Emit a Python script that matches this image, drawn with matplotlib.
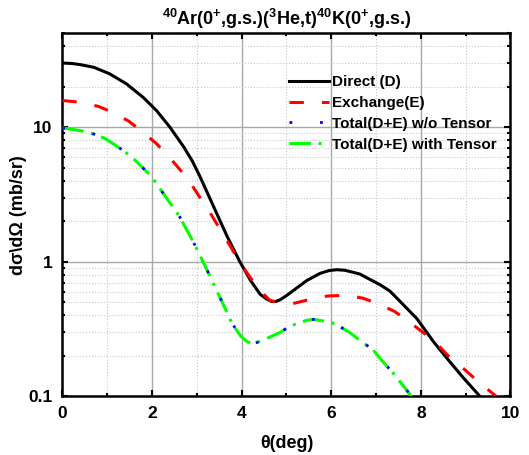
import numpy as np
import matplotlib
matplotlib.use('Agg')
import matplotlib.pyplot as plt
from matplotlib.ticker import FixedLocator, LogLocator, FuncFormatter, NullFormatter

plt.rcParams['font.family'] = ['Liberation Sans', 'DejaVu Sans']
plt.rcParams['font.weight'] = 'bold'
plt.rcParams['mathtext.fontset'] = 'custom'
plt.rcParams['mathtext.default'] = 'bf'
plt.rcParams['mathtext.bf'] = 'Liberation Sans:bold'
plt.rcParams['mathtext.rm'] = 'Liberation Sans:bold'

# values
theta_d = [0, 0.2, 0.4, 0.7, 1.05, 1.43, 1.8, 2.1, 2.4, 2.7, 2.9, 3.07, 3.37, 3.67,
           3.96, 4.11, 4.2, 4.41, 4.55, 4.67, 4.76, 4.85, 5.0, 5.15, 5.45, 5.75,
           5.95, 6.12, 6.3, 6.49, 6.64, 6.86, 7.09, 7.31, 7.53, 7.91, 8.28, 8.65,
           8.95, 9.25, 9.35]
direct = [30, 29.8, 29.2, 27.9, 25.0, 21.0, 16.7, 13.3, 10.0, 7.2, 5.6, 4.3, 2.59,
          1.56, 1.0, 0.82, 0.725, 0.575, 0.53, 0.507, 0.507, 0.52, 0.56, 0.61, 0.724,
          0.82, 0.86, 0.873, 0.865, 0.835, 0.81, 0.74, 0.675, 0.605, 0.51, 0.378,
          0.255, 0.18, 0.137, 0.106, 0.097]

theta_e = [0, 0.35, 0.8, 1.1, 1.48, 1.74, 2.09, 2.33, 2.64, 2.85, 3.1, 3.29, 3.53,
           3.7, 3.95, 4.11, 4.37, 4.63, 4.85, 5.12, 5.44, 5.9, 6.23, 6.45, 6.7, 7.0,
           7.41, 7.67, 8.04, 8.31, 8.61, 8.87, 9.23, 9.47, 9.7]
exchange = [15.8, 15.4, 14.3, 13.0, 11.1, 9.5, 7.6, 6.3, 4.77, 3.89, 2.9, 2.33, 1.72,
            1.39, 1.0, 0.835, 0.63, 0.517, 0.495, 0.487, 0.517, 0.556, 0.562, 0.555,
            0.537, 0.495, 0.428, 0.372, 0.30, 0.255, 0.20, 0.17, 0.133, 0.114, 0.099]

theta_t = [0, 0.43, 0.71, 0.95, 1.32, 1.54, 1.68, 1.95, 2.04, 2.21, 2.4, 2.62, 2.76,
           2.9, 3.08, 3.22, 3.36, 3.52, 3.63, 3.78, 3.98, 4.12, 4.26, 4.56, 4.87,
           5.09, 5.3, 5.45, 5.6, 5.82, 6.02, 6.13, 6.4, 6.71, 6.92, 7.12, 7.38, 7.44,
           7.58, 7.74, 7.8]
total_no_tensor = [9.9, 9.4, 8.88, 8.26, 6.85, 6.03, 5.45, 4.43, 4.07, 3.37, 2.74,
                   2.15, 1.76, 1.45, 1.1, 0.88, 0.70, 0.54, 0.45, 0.35, 0.28, 0.255,
                   0.245, 0.269, 0.30, 0.334, 0.352, 0.367, 0.373, 0.363, 0.351,
                   0.339, 0.30, 0.25, 0.224, 0.186, 0.149, 0.14, 0.123, 0.105, 0.098]
total_tensor = [9.9, 9.4, 8.88, 8.26, 6.85, 6.03, 5.45, 4.43, 4.07, 3.37, 2.74,
                2.15, 1.76, 1.45, 1.1, 0.88, 0.70, 0.54, 0.45, 0.35, 0.28, 0.255,
                0.245, 0.269, 0.30, 0.334, 0.352, 0.367, 0.373, 0.363, 0.351,
                0.339, 0.30, 0.25, 0.224, 0.186, 0.149, 0.14, 0.123, 0.105, 0.098]

fig = plt.figure(figsize=(5.29, 4.55), dpi=100)
ax = fig.add_axes([0.118, 0.129, 0.847, 0.798])

ax.plot(theta_d, direct, color='black', lw=2.2, label='Direct (D)', zorder=3)
ax.plot(theta_e, exchange, color='#ff0000', lw=2.2, dashes=(4.7, 5.9),
        label='Exchange(E)', zorder=3)
ax.plot(theta_t, total_tensor, color='#00ff00', lw=2.2,
        dashes=(7, 2.5, 1, 2.5), label='Total(D+E) with Tensor', zorder=3)
ax.plot(theta_t, total_no_tensor, color='#0000ff', lw=2.0,
        dashes=(1, 10), label='Total(D+E) w/o Tensor', zorder=4)

ax.set_yscale('log')
ax.set_xlim(0, 10)
ax.set_ylim(0.1, 50)

ax.xaxis.set_major_locator(FixedLocator([0, 2, 4, 6, 8, 10]))
ax.xaxis.set_minor_locator(FixedLocator([1, 3, 5, 7, 9]))
ax.yaxis.set_major_locator(FixedLocator([0.1, 1, 10]))
ax.yaxis.set_minor_locator(LogLocator(base=10, subs=np.arange(2, 10)))
ax.yaxis.set_major_formatter(FuncFormatter(lambda v, p: '%g' % v))
ax.yaxis.set_minor_formatter(NullFormatter())

ax.grid(which='major', color='#a8a8a8', lw=1.0, ls='-')
ax.grid(which='minor', color='#c8c8c8', lw=0.8, ls=':')
ax.set_axisbelow(True)

ax.tick_params(which='both', direction='in', top=True, right=True, width=1.5)
ax.tick_params(which='major', length=4, labelsize=12.5)
ax.tick_params(axis='x', which='major', pad=7)
ax.tick_params(axis='y', which='major', pad=7)
ax.tick_params(which='minor', length=2.5)
for s in ax.spines.values():
    s.set_linewidth(1.8)

ax.set_xlabel('θ(deg)', fontsize=13, fontweight='bold', labelpad=10)
ax.set_ylabel('dσ\\dΩ (mb/sr)', fontsize=13, fontweight='bold', labelpad=1)
ax.set_title(r'$^{40}$Ar(0$^{+}$,g.s.)($^{3}$He,t)$^{40}$K(0$^{+}$,g.s.)',
             fontsize=13, fontweight='bold', pad=6)

handles, labels = ax.get_legend_handles_labels()
order = [0, 1, 3, 2]
ax.legend([handles[i] for i in order], [labels[i] for i in order],
          loc='upper right', bbox_to_anchor=(0.99, 0.91), frameon=False,
          prop={'size': 11, 'weight': 'bold'}, handlelength=2.6,
          handletextpad=0.2, labelspacing=0.45, borderaxespad=0.2)

fig.savefig('out.png', dpi=100)
